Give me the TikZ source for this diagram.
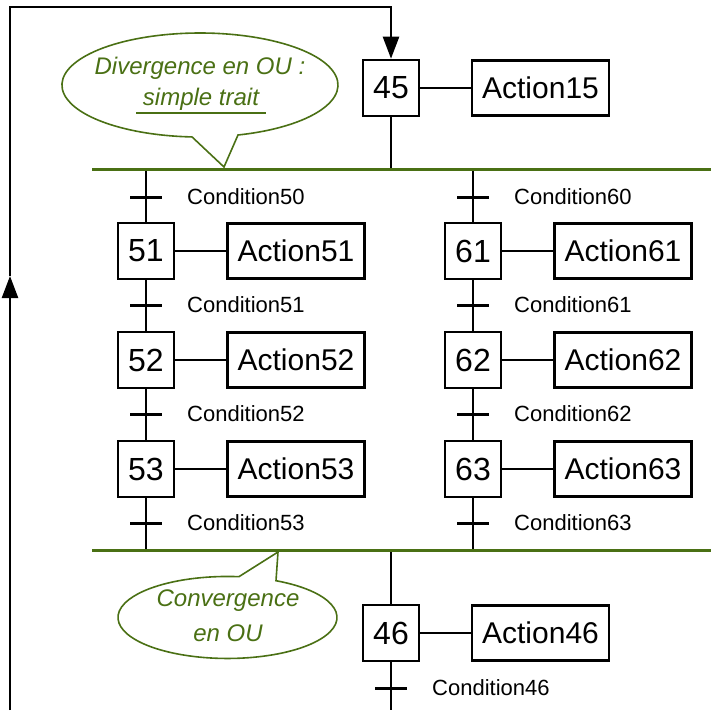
\documentclass[tikz,border=0pt]{standalone}
\usepackage{fontspec}
\setmainfont{Liberation Sans}
\usetikzlibrary{arrows.meta}
\definecolor{grafgreen}{RGB}{74,112,20}
\begin{document}
\begin{tikzpicture}[x=1pt,y=-1pt, line width=2.4pt,
  stepbox/.style={draw, line width=2.6pt, minimum width=56pt, minimum height=56pt, inner sep=0pt, font=\fontsize{32}{32}\selectfont},
  actbox/.style={draw, line width=2.6pt, minimum width=137pt, minimum height=55pt, inner sep=0pt, font=\fontsize{30}{30}\selectfont},
  cond/.style={anchor=west, inner sep=0pt, font=\fontsize{22}{22}\selectfont},
  tick/.style={line width=3pt},
  bar/.style={draw=grafgreen, line width=3pt},
  callout/.style={draw=grafgreen, line width=1.6pt, line join=miter},
  handtxt/.style={text=grafgreen, inner sep=0pt, font=\fontsize{24}{24}\selectfont\itshape},
  arr/.style={-{Triangle[length=22pt,width=16pt]}}
]
\useasboundingbox (0,0) rectangle (711,710);

% steps and actions
\node[stepbox] (s45) at (391,88) {45};
\node[actbox]  (a45) at (540.5,88) {Action15};
\node[stepbox] (s51) at (146,251) {51};
\node[actbox]  (a51) at (296,251) {Action51};
\node[stepbox] (s52) at (146,360) {52};
\node[actbox]  (a52) at (296,360) {Action52};
\node[stepbox] (s53) at (146,469) {53};
\node[actbox]  (a53) at (296,469) {Action53};
\node[stepbox] (s61) at (473,251) {61};
\node[actbox]  (a61) at (623,251) {Action61};
\node[stepbox] (s62) at (473,360) {62};
\node[actbox]  (a62) at (623,360) {Action62};
\node[stepbox] (s63) at (473,469) {63};
\node[actbox]  (a63) at (623,469) {Action63};
\node[stepbox] (s46) at (391,633) {46};
\node[actbox]  (a46) at (540.5,633) {Action46};

\foreach \s in {45,51,52,53,61,62,63,46} \draw (s\s.east) -- (a\s.west);

% bar coordinates
\coordinate (dv45) at (391,169);
\coordinate (dvL) at (146,169);
\coordinate (dvR) at (473,169);
\coordinate (cvL) at (146,550);
\coordinate (cvR) at (473,550);
\coordinate (cv46) at (391,550);
\coordinate (bot46) at (391,710);

% vertical links
\draw (s45.south) -- (dv45);
\draw (dvL) -- (s51.north);
\draw (s51.south) -- (s52.north);
\draw (s52.south) -- (s53.north);
\draw (s53.south) -- (cvL);
\draw (dvR) -- (s61.north);
\draw (s61.south) -- (s62.north);
\draw (s62.south) -- (s63.north);
\draw (s63.south) -- (cvR);
\draw (cv46) -- (s46.north);
\draw (s46.south) -- (bot46);

% transitions
\foreach \x/\n/\y in {146/50/197,146/51/305,146/52/414,146/53/523,473/60/197,473/61/305,473/62/414,473/63/523,391/46/688}{
  \coordinate (t\n) at (\x,\y);
  \draw[tick] ([xshift=-16pt]t\n) -- ([xshift=16pt]t\n);
  \node[cond] (c\n) at ([xshift=40pt]t\n) {Condition\n};
}

% loop back
\coordinate (lb) at (10,710);
\coordinate (lm) at (10,276);
\coordinate (lt1) at (10,7);
\coordinate (lt2) at (391,7);
\draw[arr] (lb) -- (lm);
\draw[arr] (lm) -- (lt1) -- (lt2) -- (s45.north);

% OU bars
\coordinate (dvs) at (92,169);
\coordinate (dve) at (711,169);
\coordinate (cvs) at (92,550);
\coordinate (cve) at (711,550);
\draw[bar] (dvs) -- (dve);
\draw[bar] (cvs) -- (cve);

% callout: divergence
\coordinate (dtip) at (224,167);
\draw[callout] (dtip) -- (238,135) arc[start angle=74, end angle=-266.7, x radius=138, y radius=52] -- cycle;
\node[handtxt] (dv1) at (200,68) {Divergence en OU :};
\node[handtxt] (dv2) at (201,99) {simple trait};
\draw[grafgreen, line width=1.8pt] (136,113) -- (266,113);

% callout: convergence
\coordinate (ctip) at (278,552);
\draw[callout] (ctip) -- (276,580.7) arc[start angle=-63.7, end angle=276, x radius=109.5, y radius=41] -- cycle;
\node[handtxt] (cv1) at (228,601) {Convergence};
\node[handtxt] (cv2) at (228,633) {en OU};
\end{tikzpicture}
\end{document}
